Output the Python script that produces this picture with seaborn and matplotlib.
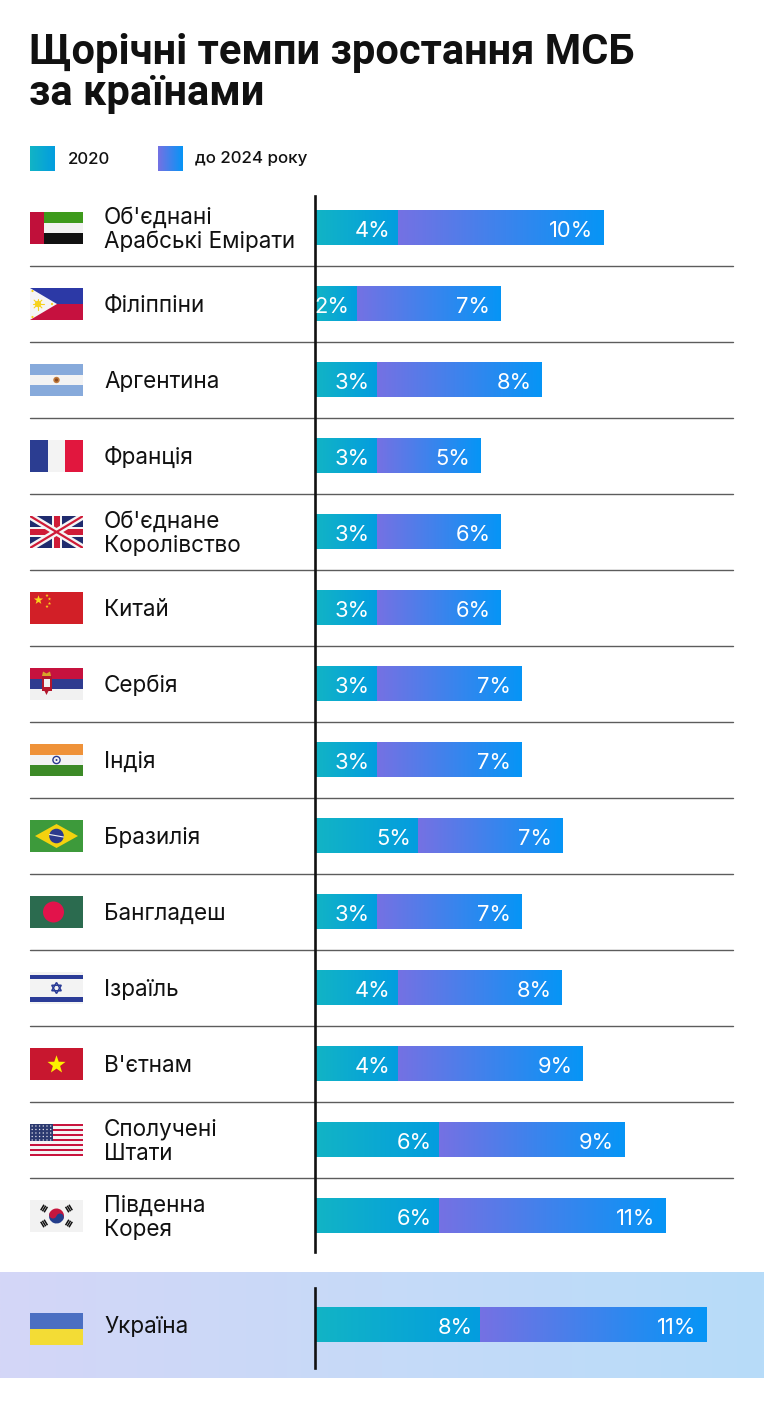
import numpy as np
import pandas as pd
import matplotlib
matplotlib.use("Agg")
import matplotlib.pyplot as plt
import seaborn as sns
from matplotlib.colors import LinearSegmentedColormap
from matplotlib.patches import Rectangle, Polygon, Circle, Wedge
from matplotlib.lines import Line2D
from matplotlib.transforms import blended_transform_factory

# ---------------- data ----------------
countries = ["Об'єднані\nАрабські Емірати", "Філіппіни", "Аргентина", "Франція",
             "Об'єднане\nКоролівство", "Китай", "Сербія", "Індія", "Бразилія",
             "Бангладеш", "Ізраїль", "В'єтнам", "Сполучені\nШтати", "Південна\nКорея"]
flags = ["uae", "ph", "ar", "fr", "uk", "cn", "rs", "in", "br", "bd", "il", "vn", "us", "kr"]
values_2020 = [4, 2, 3, 3, 3, 3, 3, 3, 5, 3, 4, 4, 6, 6]
values_2024 = [10, 7, 8, 5, 6, 6, 7, 7, 7, 7, 8, 9, 9, 11]

ua_country = ["Україна"]
ua_2020 = [8]
ua_2024 = [11]

title_lines = ["Щорічні темпи зростання МСБ", "за країнами"]
legend_labels = ["2020", "до 2024 року"]

# ---------------- style ----------------
sns.set_style("white")
plt.rcParams['font.family'] = ['Inter', 'DejaVu Sans']

W, H = 764, 1423
fig = plt.figure(figsize=(W / 100, H / 100), dpi=100)
fig.patch.set_facecolor("white")

cmap_2020 = LinearSegmentedColormap.from_list("c2020", ["#12b4c5", "#039ddf"])
cmap_2024 = LinearSegmentedColormap.from_list("c2024", ["#7571e3", "#0695f6"])
grad = np.linspace(0, 1, 256).reshape(1, -1)

PX_PER_UNIT = 20.6
X0, X1 = 315, 733
NAME_SIZE = 16.2


def fig_rect(left, top, right, bottom):
    return [left / W, 1 - bottom / H, (right - left) / W, (bottom - top) / H]


# decoration axes (pixel coordinates)
deco = fig.add_axes([0, 0, 1, 1], zorder=0)
deco.set_xlim(0, W)
deco.set_ylim(H, 0)
deco.axis("off")

# title
for txt, base in zip(title_lines, [64, 105]):
    deco.text(29, base, txt, fontsize=30, fontweight="bold", va="baseline", ha="left",
              color="#111111", family=["Roboto", "DejaVu Sans"])

# legend
deco.imshow(grad, cmap=cmap_2020, extent=[30, 55, 171, 146], aspect="auto", zorder=2)
deco.imshow(grad, cmap=cmap_2024, extent=[158, 183, 171, 146], aspect="auto", zorder=2)
deco.text(68, 159, legend_labels[0], fontsize=12.2, fontweight="medium", va="center", ha="left", color="#111111")
deco.text(195, 159, legend_labels[1], fontsize=12.2, fontweight="medium", va="center", ha="left", color="#111111")

# Ukraine band background
band_cmap = LinearSegmentedColormap.from_list("band", ["#d4d6f7", "#c6daf8", "#b7dcf9"])
deco.imshow(grad, cmap=band_cmap, extent=[0, W, 1378, 1272], aspect="auto", zorder=1)
deco.set_xlim(0, W)
deco.set_ylim(H, 0)


def style_axes(ax):
    ax.patch.set_visible(False)
    for s in ["top", "right", "bottom"]:
        ax.spines[s].set_visible(False)
    ax.spines["left"].set_color("#111111")
    ax.spines["left"].set_linewidth(1.9)
    ax.set_xlabel("")
    ax.set_ylabel("")
    ax.set_xticks([])
    ax.tick_params(left=False, labelleft=False, bottom=False, labelbottom=False)


def draw_bars(ax, names, v1, v2):
    df = pd.DataFrame({"country": names, "v2020": v1, "v2024": v2})
    df["total"] = df["v2020"] + df["v2024"]
    sns.barplot(data=df, y="country", x="total", orient="h", ax=ax, width=0.46,
                color="#0695f6", saturation=1, errorbar=None)
    n_before = len(ax.patches)
    sns.barplot(data=df, y="country", x="v2020", orient="h", ax=ax, width=0.46,
                color="#12b4c5", saturation=1, errorbar=None)
    patches = list(ax.patches)
    for k, p in enumerate(patches):
        y0, h = p.get_y(), p.get_height()
        row = int(round(y0 + h / 2))
        x_end = p.get_x() + p.get_width()
        if k < n_before:
            start, cm = df["v2020"].iloc[row], cmap_2024
        else:
            start, cm = 0, cmap_2020
        p.set_visible(False)
        ax.imshow(grad, cmap=cm, extent=[start, x_end, y0 + h, y0], aspect="auto",
                  interpolation="bilinear", zorder=2)
    for i in range(len(df)):
        a = df["v2020"].iloc[i]
        t = df["total"].iloc[i]
        ax.annotate(f"{a}%", xy=(a, i), xytext=(-7, -3), textcoords="offset pixels",
                    ha="right", va="center", color="white", fontsize=15.8, zorder=3)
        ax.annotate(f"{df['v2024'].iloc[i]}%", xy=(t, i), xytext=(-10, -3), textcoords="offset pixels",
                    ha="right", va="center", color="white", fontsize=15.8, zorder=3)
    return df


# ---------------- main chart ----------------
ax = fig.add_axes(fig_rect(X0, 196, X1, 1252), zorder=2)
draw_bars(ax, countries, values_2020, values_2024)
style_axes(ax)
ax.set_xlim(0, (X1 - X0) / PX_PER_UNIT)
ax.set_ylim((1252 - 228) / 76, (196 - 228) / 76)

trans = blended_transform_factory(fig.transFigure, ax.transData)
for i in range(len(countries) - 1):
    ax.add_artist(Line2D([30 / W, 733 / W], [i + 0.5, i + 0.5], transform=trans,
                         color="#5c5c5c", lw=1.0, clip_on=False, zorder=1))
for i, name in enumerate(countries):
    ax.text(104 / W, i + 0.02, name, transform=trans, ha="left", va="center",
            fontsize=NAME_SIZE, color="#111111", linespacing=1.12, clip_on=False)

# ---------------- Ukraine ----------------
uax = fig.add_axes(fig_rect(X0, 1288, X1, 1368), zorder=2)
draw_bars(uax, ua_country, ua_2020, ua_2024)
style_axes(uax)
uax.set_xlim(0, (X1 - X0) / PX_PER_UNIT)
uax.set_ylim((1368 - 1325) / 76, (1288 - 1325) / 76)
utrans = blended_transform_factory(fig.transFigure, uax.transData)
uax.text(104 / W, 0.02, ua_country[0], transform=utrans, ha="left", va="center",
         fontsize=NAME_SIZE, color="#111111", clip_on=False)


# ---------------- flags ----------------
def star_pts(cx, cy, r, n=5, rot=-90):
    pts = []
    for k in range(2 * n):
        ang = np.deg2rad(rot + k * 180 / n)
        rr = r if k % 2 == 0 else r * 0.4
        pts.append((cx + rr * np.cos(ang), cy + rr * np.sin(ang)))
    return pts


def draw_flag(fx, kind):
    w, h = 53, 32
    R = lambda x, y, ww, hh, c: fx.add_patch(Rectangle((x, y), ww, hh, color=c, lw=0))
    if kind == "uae":
        R(0, 0, w, h / 3, "#3e9a1c"); R(0, h / 3, w, h / 3, "#f2f2f2"); R(0, 2 * h / 3, w, h / 3, "#111111")
        R(0, 0, 14, h, "#c0103a")
    elif kind == "ph":
        R(0, 0, w, h / 2, "#2c39a6"); R(0, h / 2, w, h / 2, "#c6113f")
        fx.add_patch(Polygon([(0, 0), (0, h), (27, h / 2)], color="#f5f5f5", lw=0))
        fx.add_patch(Circle((8, h / 2), 3.2, color="#f6d21c", lw=0))
        for a in range(8):
            ang = np.deg2rad(a * 45)
            fx.add_line(Line2D([8, 8 + 5.5 * np.cos(ang)], [h / 2, h / 2 + 5.5 * np.sin(ang)], color="#f6d21c", lw=0.8))
        for (sx, sy) in [(2.5, 3), (2.5, h - 3), (22, h / 2)]:
            fx.add_patch(Circle((sx, sy), 1.1, color="#f6d21c", lw=0))
    elif kind == "ar":
        R(0, 0, w, h / 3, "#87aadb"); R(0, h / 3, w, h / 3, "#f3f3f3"); R(0, 2 * h / 3, w, h / 3, "#87aadb")
        fx.add_patch(Circle((w / 2, h / 2), 3.2, color="#c07a3c", lw=0))
        fx.add_patch(Circle((w / 2, h / 2), 1.6, color="#8a4a20", lw=0))
    elif kind == "fr":
        R(0, 0, w / 3, h, "#2b3d91"); R(w / 3, 0, w / 3, h, "#f3f3f3"); R(2 * w / 3, 0, w / 3, h, "#e1173e")
    elif kind == "uk":
        R(0, 0, w, h, "#1f2b6e")
        for (xs, ys) in [([0, w], [0, h]), ([0, w], [h, 0])]:
            fx.add_line(Line2D(xs, ys, color="#f5f5f5", lw=5.0, solid_capstyle="butt"))
        for (xs, ys) in [([0, w], [0, h]), ([0, w], [h, 0])]:
            fx.add_line(Line2D(xs, ys, color="#cf1b37", lw=1.6, solid_capstyle="butt"))
        R(w / 2 - 5, 0, 10, h, "#f5f5f5"); R(0, h / 2 - 5, w, 10, "#f5f5f5")
        R(w / 2 - 3, 0, 6, h, "#cf1b37"); R(0, h / 2 - 3, w, 6, "#cf1b37")
    elif kind == "cn":
        R(0, 0, w, h, "#d21f27")
        fx.add_patch(Polygon(star_pts(8.5, 8, 4.8), color="#f9d51b", lw=0))
        for (sx, sy) in [(17, 3.5), (19.5, 7), (19.5, 11.5), (17, 14.5)]:
            fx.add_patch(Polygon(star_pts(sx, sy, 1.7), color="#f9d51b", lw=0))
    elif kind == "rs":
        R(0, 0, w, h / 3, "#c6123e"); R(0, h / 3, w, h / 3, "#2f3b8f"); R(0, 2 * h / 3, w, h / 3, "#f1f1f1")
        fx.add_patch(Rectangle((11.5, 8), 10, 15, color="#b3162c", lw=0))
        fx.add_patch(Rectangle((13.5, 11), 6, 8, color="#f1f1f1", lw=0))
        fx.add_patch(Polygon([(12, 8), (13, 3.5), (16.5, 5.5), (20, 3.5), (21, 8)], color="#d6a52a", lw=0))
        fx.add_patch(Polygon([(14.5, 23), (16.5, 27), (18.5, 23)], color="#b3162c", lw=0))
    elif kind == "in":
        R(0, 0, w, h / 3, "#ef9239"); R(0, h / 3, w, h / 3, "#f3f3f3"); R(0, 2 * h / 3, w, h / 3, "#3c8a27")
        fx.add_patch(Circle((w / 2, h / 2), 3.6, fill=False, ec="#2b3990", lw=1.0))
        fx.add_patch(Circle((w / 2, h / 2), 1.0, color="#2b3990", lw=0))
    elif kind == "br":
        R(0, 0, w, h, "#3d9a3b")
        fx.add_patch(Polygon([(5, h / 2), (w / 2, 4), (w - 5, h / 2), (w / 2, h - 4)], color="#f3d20f", lw=0))
        fx.add_patch(Circle((w / 2, h / 2), 7.3, color="#2c3a8d", lw=0))
        fx.add_line(Line2D([w / 2 - 7, w / 2 + 7], [h / 2 - 1.5, h / 2 + 1], color="#f3f3f3", lw=0.8))
    elif kind == "bd":
        R(0, 0, w, h, "#2b6b4f")
        fx.add_patch(Circle((23.5, h / 2), 10.5, color="#e2134b", lw=0))
    elif kind == "il":
        R(0, 0, w, h, "#f3f3f3")
        R(0, 2.5, w, 4.5, "#2b3c97"); R(0, h - 7, w, 4.5, "#2b3c97")
        for rot in (-90, 90):
            pts = [(w / 2 + 5.5 * np.cos(np.deg2rad(rot + k * 120)), h / 2 + 5.5 * np.sin(np.deg2rad(rot + k * 120))) for k in range(3)]
            fx.add_patch(Polygon(pts, closed=True, fill=False, ec="#2b3c97", lw=1.1))
    elif kind == "vn":
        R(0, 0, w, h, "#c8172f")
        fx.add_patch(Polygon(star_pts(w / 2, h / 2 + 0.8, 9.5), color="#fcf000", lw=0))
    elif kind == "us":
        for k in range(13):
            R(0, k * h / 13, w, h / 13 + 0.05, "#c8143e" if k % 2 == 0 else "#f5f5f5")
        R(0, 0, 23, 7 * h / 13, "#2c3a70")
        for r_ in range(5):
            for c_ in range(6):
                fx.add_patch(Circle((2.2 + c_ * 3.7, 2.0 + r_ * 3.5), 0.7, color="#e8e8f0", lw=0))
    elif kind == "kr":
        R(0, 0, w, h, "#f2f2f2")
        cx, cy, r = w / 2, h / 2, 7.5
        fx.add_patch(Wedge((cx, cy), r, 200, 20, color="#c6163e", lw=0))
        fx.add_patch(Wedge((cx, cy), r, 20, 200, color="#243e8c", lw=0))
        dx, dy = r / 2 * np.cos(np.deg2rad(20)), r / 2 * np.sin(np.deg2rad(20))
        fx.add_patch(Circle((cx - dx, cy - dy), r / 2, color="#c6163e", lw=0))
        fx.add_patch(Circle((cx + dx, cy + dy), r / 2, color="#243e8c", lw=0))
        for (sx, sy) in [(-1, -1), (1, -1), (-1, 1), (1, 1)]:
            v = np.array([sx * 1.66, sy * 1.0]); v = v / np.linalg.norm(v)
            pvec = np.array([-v[1], v[0]])
            for k in range(3):
                c = np.array([cx, cy]) + v * (12.5 + k * 2.0)
                a = c - pvec * 3.2; b = c + pvec * 3.2
                fx.add_line(Line2D([a[0], b[0]], [a[1], b[1]], color="#111111", lw=1.1, solid_capstyle="butt"))
    elif kind == "ua":
        R(0, 0, w, h / 2, "#4b6fc2"); R(0, h / 2, w, h / 2, "#f3dc35")
    fx.set_xlim(0, w)
    fx.set_ylim(h, 0)
    fx.axis("off")


for i, kind in enumerate(flags):
    cy = 228 + 76 * i
    fx = fig.add_axes(fig_rect(30, cy - 16, 83, cy + 16), zorder=3)
    draw_flag(fx, kind)

fx = fig.add_axes(fig_rect(30, 1313, 83, 1345), zorder=3)
draw_flag(fx, "ua")

fig.savefig("out.png", dpi=100, facecolor="white")
